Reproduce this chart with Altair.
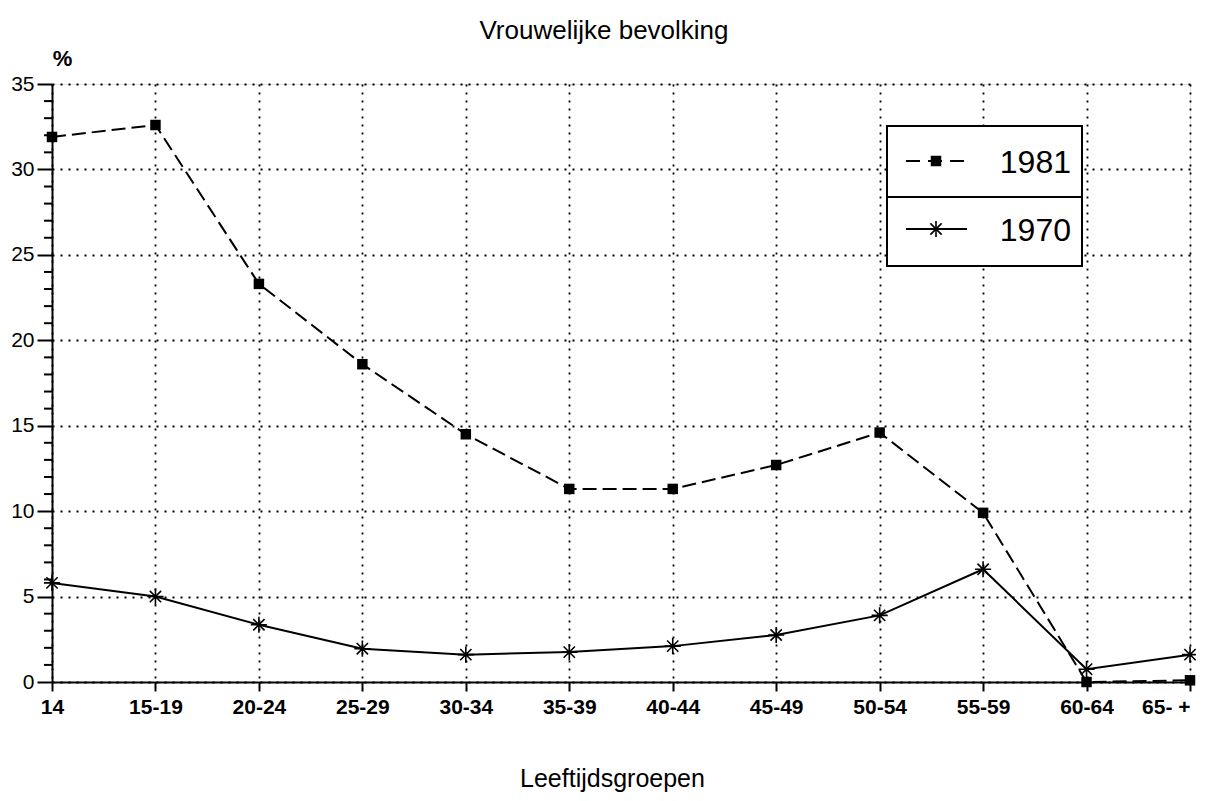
import altair as alt
import pandas as pd

# ---- data ----
ages = ["14", "15-19", "20-24", "25-29", "30-34", "35-39", "40-44",
        "45-49", "50-54", "55-59", "60-64", "65- +"]
v1981 = [31.9, 32.6, 23.3, 18.6, 14.5, 11.3, 11.3, 12.7, 14.6, 9.9, 0.0, 0.1]
v1970 = [5.8, 5.0, 3.35, 1.95, 1.6, 1.75, 2.1, 2.75, 3.9, 6.6, 0.75, 1.6]
series = ["1981", "1970"]
y_major = [0, 5, 10, 15, 20, 25, 30, 35]
y_minor = [1, 2, 3, 4, 6, 7, 8, 9, 11, 12, 13, 14, 16, 17, 18, 19, 21, 22, 23, 24,
           26, 27, 28, 29, 31, 32, 33, 34]

title_text = "Vrouwelijke bevolking"
x_title = "Leeftijdsgroepen"
y_title = "%"

SANS = "'Liberation Sans', Arial, sans-serif"

df81 = pd.DataFrame({"age": ages, "value": v1981, "series": series[0]})
df70 = pd.DataFrame({"age": ages, "value": v1970, "series": series[1]})
dfminor = pd.DataFrame({"value": y_minor})
one = pd.DataFrame({"k": [0]})

ASTERISK = "M-1,0L1,0M0,-1L0,1M-0.7,-0.7L0.7,0.7M-0.7,0.7L0.7,-0.7"

x_axis = alt.Axis(
    labelAngle=0, labelFont=SANS, labelFontSize=21, labelFontWeight="bold",
    labelColor="black", labelPadding=5,
    labelAlign={"expr": "datum.label == '65- +' ? 'right' : 'center'"},
    tickSize=9, tickWidth=2, tickColor="black",
    domainColor="black", domainWidth=2,
    grid=True, gridColor="black", gridDash=[2, 6], gridWidth=1.8, gridOpacity=1,
    title=x_title, titleFont=SANS, titleFontSize=25, titleFontWeight="normal",
    titleColor="black", titleX=560, titleY=104, titleAlign="center",
    titleBaseline="alphabetic", titleAngle=0,
)
y_axis = alt.Axis(
    values=y_major, labelFont=SANS, labelFontSize=21, labelColor="black",
    labelPadding=3, tickSize=15, tickWidth=2, tickColor="black",
    domainColor="black", domainWidth=2,
    grid=True, gridColor="black", gridDash=[2, 6], gridWidth=1.8, gridOpacity=1,
    title=y_title, titleFont=SANS, titleFontSize=22, titleFontWeight="bold",
    titleColor="black", titleAngle=0, titleX=10, titleY=-26,
    titleAlign="center", titleBaseline="middle",
)

x_enc = alt.X("age:N", sort=ages, axis=x_axis,
              scale=alt.Scale(type="point", domain=ages, padding=0))
y_enc = alt.Y("value:Q", axis=y_axis, scale=alt.Scale(domain=[0, 35], nice=False))

line81 = alt.Chart(df81).mark_line(color="black", strokeWidth=2, strokeDash=[14, 6]).encode(
    x=x_enc, y=y_enc)
line70 = alt.Chart(df70).mark_line(color="black", strokeWidth=2).encode(x=x_enc, y=y_enc)
pts81 = alt.Chart(df81).mark_point(shape="square", filled=True, color="black", size=110,
                                   opacity=1).encode(x=x_enc, y=y_enc)
pts70 = alt.Chart(df70).mark_point(shape=ASTERISK, filled=False, color="black", size=260,
                                   strokeWidth=1.6, opacity=1).encode(x=x_enc, y=y_enc)

minor = alt.Chart(dfminor).mark_rule(color="black", strokeWidth=2).encode(
    y=y_enc, x=alt.value(-8), x2=alt.value(0))

# ---- legend box (decoration) ----
leg_box = alt.Chart(one).mark_rect(fill="white", stroke="black", strokeWidth=2).encode(
    x=alt.value(835), x2=alt.value(1030), y=alt.value(42), y2=alt.value(182))
leg_div = alt.Chart(one).mark_rule(color="black", strokeWidth=2).encode(
    x=alt.value(835), x2=alt.value(1030), y=alt.value(113))
leg_l81 = alt.Chart(one).mark_rule(color="black", strokeWidth=2, strokeDash=[14, 8]).encode(
    x=alt.value(854), x2=alt.value(915), y=alt.value(77))
leg_p81 = alt.Chart(one).mark_point(shape="square", filled=True, color="black", size=110,
                                    opacity=1).encode(x=alt.value(884), y=alt.value(77))
leg_l70 = alt.Chart(one).mark_rule(color="black", strokeWidth=2).encode(
    x=alt.value(854), x2=alt.value(915), y=alt.value(145))
leg_p70 = alt.Chart(one).mark_point(shape=ASTERISK, filled=False, color="black", size=260,
                                    strokeWidth=1.6, opacity=1).encode(
    x=alt.value(884), y=alt.value(145))
leg_t81 = alt.Chart(one).mark_text(font=SANS, fontSize=32, align="right",
                                   baseline="middle", color="black").encode(
    x=alt.value(1019), y=alt.value(79), text=alt.value(series[0]))
leg_t70 = alt.Chart(one).mark_text(font=SANS, fontSize=32, align="right",
                                   baseline="middle", color="black").encode(
    x=alt.value(1019), y=alt.value(147), text=alt.value(series[1]))

chart = alt.layer(
    minor, line81, line70, pts81, pts70,
    leg_box, leg_div, leg_l81, leg_p81, leg_l70, leg_p70, leg_t81, leg_t70,
).properties(
    width=1138, height=598,
    title=alt.TitleParams(title_text, font=SANS, fontSize=26, fontWeight="normal",
                          color="black", anchor="middle", dx=-17, dy=27, offset=9,
                          baseline="alphabetic", frame="group"),
    autosize=alt.AutoSizeParams(type="none"),
    padding={"left": 44, "top": 76, "right": 6, "bottom": 111},
).configure_view(stroke="transparent").configure(background="white")

chart.save("out.html", embed_options={"renderer": "svg", "actions": False})
